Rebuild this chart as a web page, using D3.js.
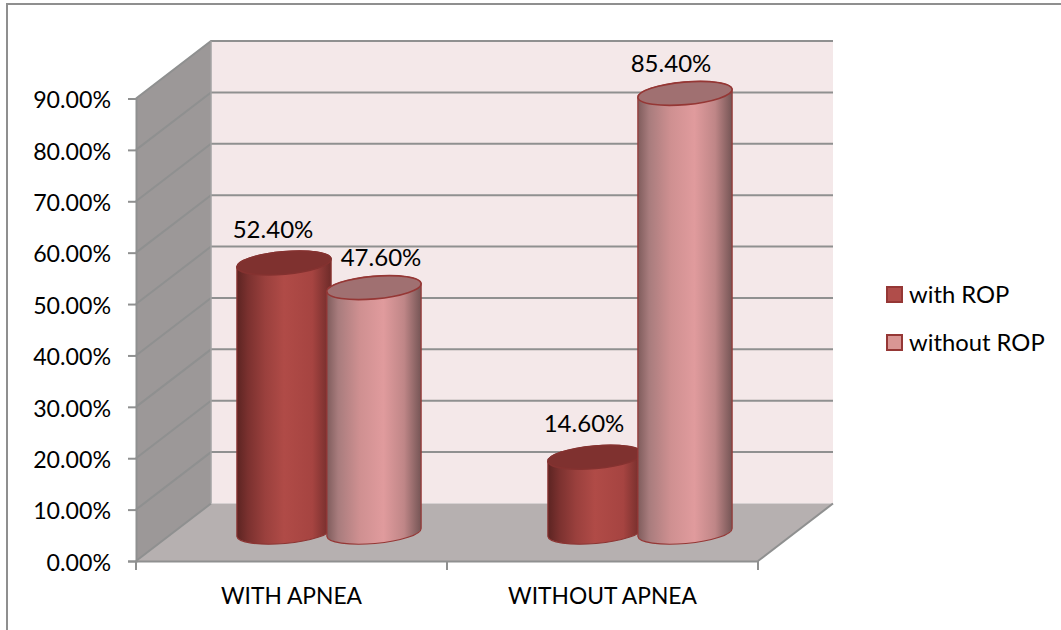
<!DOCTYPE html>
<html>
<head>
<meta charset="utf-8">
<script src="https://cdnjs.cloudflare.com/ajax/libs/d3/7.8.5/d3.min.js"></script>
<style>
  html, body { margin: 0; padding: 0; background: #fff; }
  svg { display: block; }
  text { font-family: Lato, "Open Sans", sans-serif; fill: #000; }
</style>
</head>
<body>
<svg id="chart" width="1061" height="630"></svg>
<script>
// Chart data
const categories = ["WITH APNEA", "WITHOUT APNEA"];
const seriesNames = ["with ROP", "without ROP"];
const withRop = [52.4, 14.6];
const withoutRop = [47.6, 85.4];
const yTicks = [0, 10, 20, 30, 40, 50, 60, 70, 80, 90];

// Layout of the oblique 3D box
const depthX = 75, depthY = -57.5;
const barHalfGap = 45, rx = 47.3, ry = 11.3, tiltDeg = -5;
const tickFontSize = 23.2, valueFontSize = 24, legendFontSize = 23.8, categoryFontSize = 22.8;

const svg = d3.select("#chart");
const defs = svg.append("defs");

const y = d3.scaleLinear().domain([0, 90]).range([561, 98.5]);
const x = d3.scaleBand().domain(categories).range([136, 758]);
const [xMin, xMax] = x.range();
const [y0, yTop] = y.range();

// Outer chart frame
svg.append("path")
  .attr("d", `M7,630V4H1061`)
  .attr("fill", "none").attr("stroke", "#8f8f8f").attr("stroke-width", 2);

// Horizontal shading for each cylinder body
const gradients = [
  { id: "bodyDark", stops: [[0, "#5c2422"], [0.12, "#7b312f"], [0.3, "#9a403d"], [0.5, "#b04b47"], [0.8, "#a64441"], [1, "#6e2b29"]] },
  { id: "bodyPink", stops: [[0, "#7f5c5c"], [0.12, "#a87c7d"], [0.35, "#cf9091"], [0.6, "#e09b9d"], [0.82, "#bf8687"], [1, "#755555"]] }
];
gradients.forEach(g => {
  const lg = defs.append("linearGradient").attr("id", g.id);
  g.stops.forEach(s => lg.append("stop").attr("offset", s[0]).attr("stop-color", s[1]));
});

// Box: back wall, side wall, floor
svg.append("polygon")
  .attr("points", [[xMin + depthX, yTop + depthY], [xMax + depthX, yTop + depthY], [xMax + depthX, y0 + depthY], [xMin + depthX, y0 + depthY]].join(" "))
  .attr("fill", "#f4e8e9");
svg.append("polygon")
  .attr("points", [[xMin, yTop], [xMin + depthX, yTop + depthY], [xMin + depthX, y0 + depthY], [xMin, y0]].join(" "))
  .attr("fill", "#9c9898");
svg.append("polygon")
  .attr("points", [[xMin, y0], [xMin + depthX, y0 + depthY], [xMax + depthX, y0 + depthY], [xMax, y0]].join(" "))
  .attr("fill", "#b6b0b0");

// Gridlines wrap from the side wall onto the back wall
const gridColor = "#8f9090";
svg.append("g").selectAll("path")
  .data(yTicks)
  .join("path")
  .attr("d", v => v === 0
    ? `M${xMin},${y(v)}L${xMin + depthX},${y(v) + depthY}`
    : `M${xMin},${y(v)}L${xMin + depthX},${y(v) + depthY}H${xMax + depthX}`)
  .attr("fill", "none").attr("stroke", gridColor).attr("stroke-width", 2);

// Box edges
svg.append("path")
  .attr("d", `M${xMin + depthX},${yTop + depthY}V${y0 + depthY}`)
  .attr("stroke", "#a3a3a3").attr("stroke-width", 1.5).attr("fill", "none");
svg.append("path")
  .attr("d", `M${xMax},${y0}L${xMax + depthX},${y0 + depthY}`)
  .attr("stroke", gridColor).attr("stroke-width", 2).attr("fill", "none");

// Vertical axis
const yAxis = svg.append("g")
  .attr("transform", `translate(${xMin},0)`)
  .call(d3.axisLeft(y).tickValues(yTicks).tickSize(8).tickPadding(17).tickFormat(v => v.toFixed(2) + "%"));
yAxis.select(".domain").attr("stroke", gridColor).attr("stroke-width", 2);
yAxis.selectAll(".tick line").attr("stroke", gridColor).attr("stroke-width", 2);
yAxis.selectAll("text").attr("font-size", tickFontSize).attr("font-family", null).attr("dy", "0.4em");

// Horizontal axis
const xAxis = svg.append("g")
  .attr("transform", `translate(0,${y0})`)
  .call(d3.axisBottom(x).tickSize(0).tickPadding(27));
xAxis.select(".domain").attr("stroke", gridColor).attr("stroke-width", 2);
xAxis.selectAll("text").attr("font-size", categoryFontSize).attr("font-family", null);
xAxis.selectAll(".tick line").remove();
xAxis.selectAll("line.boundary")
  .data(d3.range(categories.length + 1))
  .join("line").attr("class", "boundary")
  .attr("x1", i => xMin + i * x.step()).attr("x2", i => xMin + i * x.step())
  .attr("y1", 0).attr("y2", 9)
  .attr("stroke", gridColor).attr("stroke-width", 2);

// Cylinders: each sits half a box depth behind the front edge
const series = [
  { values: withRop, sign: -1, body: "url(#bodyDark)", top: "#7f312f", stroke: "#8c3533", topStroke: "#843230" },
  { values: withoutRop, sign: 1, body: "url(#bodyPink)", top: "#a07071", stroke: "#953735", topStroke: "#953735" }
];

const t = tiltDeg * Math.PI / 180;
const ex = rx * Math.cos(t), ey = rx * Math.sin(t);

function bodyPath(cx, cyTop, cyBase) {
  return `M${cx - ex},${cyTop - ey}` +
    `L${cx - ex},${cyBase - ey}` +
    `A${rx},${ry} ${tiltDeg} 0 0 ${cx + ex},${cyBase + ey}` +
    `L${cx + ex},${cyTop + ey}` +
    `A${rx},${ry} ${tiltDeg} 0 0 ${cx - ex},${cyTop - ey}Z`;
}
function capPath(cx, cy) {
  return `M${cx - ex},${cy - ey}` +
    `A${rx},${ry} ${tiltDeg} 1 1 ${cx + ex},${cy + ey}` +
    `A${rx},${ry} ${tiltDeg} 1 1 ${cx - ex},${cy - ey}Z`;
}

// Value labels sit above each cap, nudged to avoid the neighbouring cylinder
const labelShift = [[[-11, -25], [7, -22]], [[-11, -25], [-14, -21]]];

categories.forEach((cat, c) => {
  const groupCx = x(cat) + x.bandwidth() / 2 + depthX / 2;
  series.forEach((s, k) => {
    const cx = groupCx + s.sign * barHalfGap;
    const cyTop = y(s.values[c]) + depthY / 2;
    const cyBase = y(0) + depthY / 2;
    svg.append("path").attr("d", bodyPath(cx, cyTop, cyBase))
      .attr("fill", s.body).attr("stroke", s.stroke).attr("stroke-width", 1.2);
    svg.append("path").attr("d", capPath(cx, cyTop))
      .attr("fill", s.top).attr("stroke", s.topStroke).attr("stroke-width", 1.6);
  });
});

// Labels go last so no cylinder paints over them
categories.forEach((cat, c) => {
  const groupCx = x(cat) + x.bandwidth() / 2 + depthX / 2;
  series.forEach((s, k) => {
    const cx = groupCx + s.sign * barHalfGap;
    const cyTop = y(s.values[c]) + depthY / 2;
    const [dx, dy] = labelShift[c][k];
    svg.append("text")
      .attr("x", cx + dx).attr("y", cyTop + dy)
      .attr("text-anchor", "middle").attr("font-size", valueFontSize)
      .text(s.values[c].toFixed(2) + "%");
  });
});

// Legend
const legendFill = ["#b04d4a", "#d99694"];
const legendY = d3.scalePoint().domain(seriesNames).range([294.5, 342.5]);
const legend = svg.append("g").selectAll("g")
  .data(seriesNames)
  .join("g")
  .attr("transform", d => `translate(887,${legendY(d)})`);
legend.append("rect")
  .attr("x", 0).attr("y", -7.5).attr("width", 15).attr("height", 15)
  .attr("fill", (d, i) => legendFill[i]).attr("stroke", "#953735").attr("stroke-width", 2);
legend.append("text")
  .attr("x", 22).attr("y", 8).attr("font-size", legendFontSize)
  .text(d => d);
</script>
</body>
</html>
